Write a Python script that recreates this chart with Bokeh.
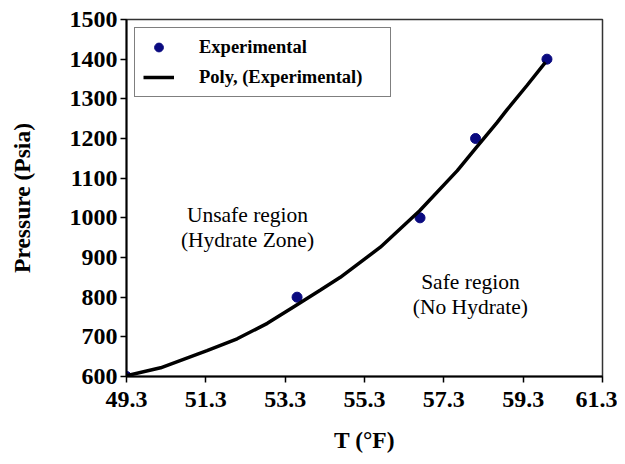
from bokeh.plotting import figure
from bokeh.models import (ColumnDataSource, FixedTicker, NumeralTickFormatter, Range1d,
                          Legend, LegendItem)
from bokeh.core.properties import value
from bokeh.embed import file_html
from bokeh.resources import INLINE

# Experimental data
exp_T = [49.3, 53.6, 56.7, 58.1, 59.9]
exp_P = [600, 800, 1000, 1200, 1400]

# Polynomial trendline
poly_T = [49.3, 50.16, 51.33, 52.09, 52.85, 53.52, 54.19, 54.69, 55.70, 56.69,
          57.64, 58.10, 58.64, 58.89, 59.39, 59.86]
poly_P = [602, 622, 665, 695, 734, 776, 818, 850, 926, 1018,
          1119, 1175, 1240, 1272, 1333, 1392]

x_ticks = [49.3, 51.3, 53.3, 55.3, 57.3, 59.3, 61.3]
y_ticks = [600, 700, 800, 900, 1000, 1100, 1200, 1300, 1400, 1500]

region_lines = ["Unsafe region", "(Hydrate Zone)", "Safe region", "(No Hydrate)"]
region_x = [52.35, 52.35, 57.97, 57.97]
region_y = [1006, 943, 837, 774]

SERIF = "Liberation Serif"

p = figure(width=617, height=456, output_backend="svg", toolbar_location=None,
           x_range=Range1d(49.3, 61.3), y_range=Range1d(600, 1500),
           min_border_left=126, min_border_right=15, min_border_top=19, min_border_bottom=80)

p.background_fill_color = "white"
p.border_fill_color = "white"
p.outline_line_color = "#333333"
p.outline_line_width = 1.5
p.grid.visible = False

exp_src = ColumnDataSource(dict(T=exp_T, P=exp_P))
poly_src = ColumnDataSource(dict(T=poly_T, P=poly_P))

r_pts = p.scatter("T", "P", source=exp_src, size=10, color="#0a0a80", line_color="#0a0a80")
r_line = p.line("T", "P", source=poly_src, line_color="black", line_width=3.5)

txt_src = ColumnDataSource(dict(x=region_x, y=region_y, t=region_lines))
p.text("x", "y", text="t", source=txt_src, text_font=value(SERIF), text_font_size="21.5px",
       text_align="center", text_baseline="middle", text_color="black")

# Axes
p.xaxis.ticker = FixedTicker(ticks=x_ticks)
p.xaxis.formatter = NumeralTickFormatter(format="0.0")
p.yaxis.ticker = FixedTicker(ticks=y_ticks)
p.xaxis.minor_tick_line_color = None
p.yaxis.minor_tick_line_color = None
for ax in (p.xaxis, p.yaxis):
    ax.axis_line_color = "black"
    ax.axis_line_width = 2
    ax.major_tick_line_color = "black"
    ax.major_tick_line_width = 1.5
    ax.major_tick_in = 0
    ax.major_tick_out = 6
    ax.major_label_text_font = SERIF
    ax.major_label_text_font_style = "bold"
    ax.major_label_text_font_size = "24px"
    ax.major_label_text_color = "black"
    ax.axis_label_text_font = SERIF
    ax.axis_label_text_font_style = "bold"
    ax.axis_label_text_font_size = "23.5px"
    ax.axis_label_text_color = "black"

p.xaxis.axis_label = "T (°F)"
p.yaxis.axis_label = "Pressure (Psia)"
p.xaxis.major_label_standoff = 9
p.yaxis.major_label_standoff = 3
p.xaxis.axis_label_standoff = 17
p.yaxis.axis_label_standoff = 32

legend = Legend(items=[LegendItem(label="Experimental", renderers=[r_pts]),
                       LegendItem(label="Poly, (Experimental)", renderers=[r_line])],
                location="top_left")
legend.margin = 8
legend.padding = 8
legend.spacing = 8
legend.glyph_width = 31
legend.glyph_height = 22
legend.label_height = 22
legend.label_width = 183
legend.label_standoff = 25
legend.label_text_font = SERIF
legend.label_text_font_style = "bold"
legend.label_text_font_size = "18.5px"
legend.label_text_color = "black"
legend.border_line_color = "black"
legend.border_line_width = 1.5
legend.background_fill_color = "white"
legend.background_fill_alpha = 1
p.add_layout(legend)

open("out.html", "w").write(file_html(p, INLINE))
